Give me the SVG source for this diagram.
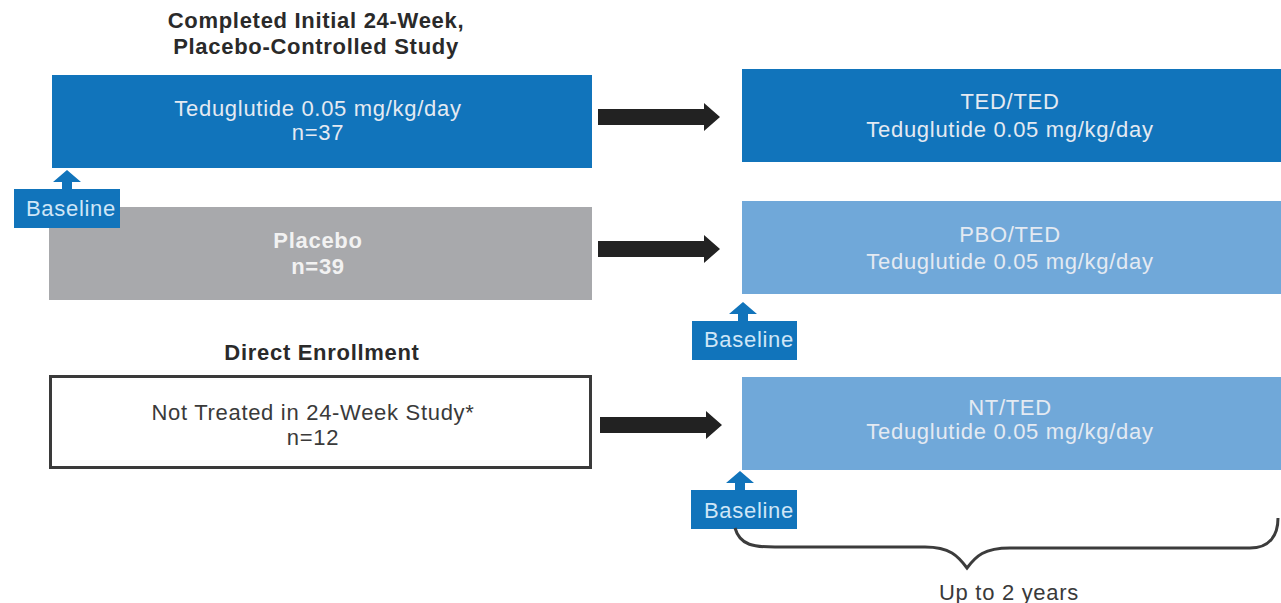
<svg xmlns="http://www.w3.org/2000/svg" width="1281" height="603" viewBox="0 0 1281 603">
  <defs>
    <style>
      text { font-family: "Liberation Sans", Arial, sans-serif; font-size: 22px; letter-spacing: 0.7px; text-anchor: middle; }
      .hdr { font-weight: bold; fill: #2a2a2a; }
      .lt { fill: #e4eaf2; }
      .pb { fill: #f2f2f2; font-weight: bold; }
      .dk { fill: #3a3a3a; }
      .dark-blue { fill: #1174bb; }
      .light-blue { fill: #70a8d9; }
      .bl { fill: #1174bb; }
      .bltx { fill: #cfe6f7; }
      .arrow { fill: #222222; }
    </style>
    <polygon id="up" points="0,-20 -14,-8 -5,-8 -5,0 5,0 5,-8 14,-8" fill="#1174bb"/>
  </defs>

  <!-- headers -->
  <text class="hdr" x="316" y="28">Completed Initial 24-Week,</text>
  <text class="hdr" x="316" y="54">Placebo-Controlled Study</text>
  <text class="hdr" x="322" y="360">Direct Enrollment</text>

  <!-- left column -->
  <g id="ted-initial">
    <rect x="52" y="75" width="540" height="93" class="dark-blue"/>
    <text class="lt" x="318" y="116">Teduglutide 0.05 mg/kg/day</text>
    <text class="lt" x="318" y="140">n=37</text>
  </g>
  <g id="placebo">
    <rect x="49" y="207" width="543" height="93" fill="#a8a9ac"/>
    <text class="pb" x="318" y="248">Placebo</text>
    <text class="pb" x="318" y="274">n=39</text>
  </g>
  <g id="not-treated">
    <rect x="50.5" y="376.5" width="540" height="91" fill="#ffffff" stroke="#3a3a3a" stroke-width="3"/>
    <text class="dk" x="313" y="420">Not Treated in 24-Week Study*</text>
    <text class="dk" x="313" y="445">n=12</text>
  </g>

  <!-- right column -->
  <g id="ted-ted">
    <rect x="742" y="69" width="539" height="93" class="dark-blue"/>
    <text class="lt" x="1010" y="109">TED/TED</text>
    <text class="lt" x="1010" y="137">Teduglutide 0.05 mg/kg/day</text>
  </g>
  <g id="pbo-ted">
    <rect x="742" y="201" width="539" height="93" class="light-blue"/>
    <text class="lt" x="1010" y="242">PBO/TED</text>
    <text class="lt" x="1010" y="269">Teduglutide 0.05 mg/kg/day</text>
  </g>
  <g id="nt-ted">
    <rect x="742" y="377" width="539" height="93" class="light-blue"/>
    <text class="lt" x="1010" y="415">NT/TED</text>
    <text class="lt" x="1010" y="439">Teduglutide 0.05 mg/kg/day</text>
  </g>

  <!-- baseline markers -->
  <g id="baseline-1">
    <use href="#up" x="67" y="190"/>
    <rect x="14" y="189" width="106" height="39" class="bl"/>
    <text class="bltx" x="71" y="216">Baseline</text>
  </g>
  <g id="baseline-2">
    <use href="#up" x="743" y="322"/>
    <rect x="692" y="321" width="105" height="39" class="bl"/>
    <text class="bltx" x="749" y="347">Baseline</text>
  </g>
  <g id="baseline-3">
    <use href="#up" x="740" y="491"/>
    <rect x="691" y="490" width="106" height="39" class="bl"/>
    <text class="bltx" x="749" y="518">Baseline</text>
  </g>

  <!-- connectors -->
  <g id="connectors">
    <polygon class="arrow" points="598,109 704,109 704,103 720,117 704,131 704,125 598,125"/>
    <polygon class="arrow" points="598,241 704,241 704,235 720,249 704,263 704,257 598,257"/>
    <polygon class="arrow" points="600,417 706,417 706,411 722,425 706,439 706,433 600,433"/>
  </g>

  <!-- duration brace -->
  <g id="duration">
    <path d="M735,528 C740,546 755,547 775,547 L925,547 C950,547 958,556 967,568 C976,556 984,548 1010,548 L1250,548 C1270,548 1278,535 1278,518" fill="none" stroke="#3c3c3c" stroke-width="3"/>
    <text class="dk" x="1009" y="600">Up to 2 years</text>
  </g>
</svg>
